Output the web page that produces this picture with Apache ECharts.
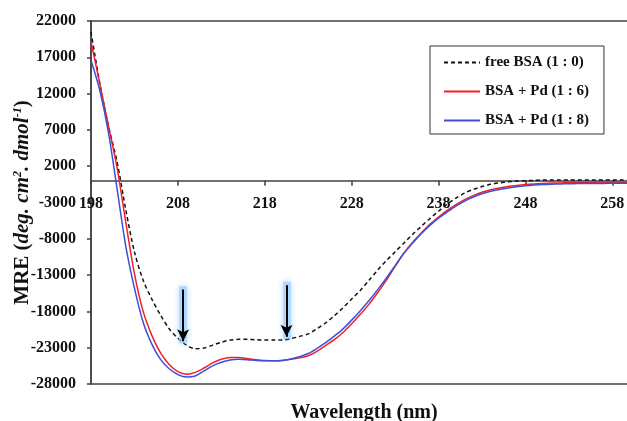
<!DOCTYPE html>
<html style="height:100%;">
<head>
    <meta charset="utf-8">
    <title>MRE vs Wavelength</title>
    <script src="https://cdn.jsdelivr.net/npm/echarts@6/dist/echarts.min.js"></script>
</head>
<body style="height: 100%; margin: 0; background: #fff;">
    <div id="main" style="width: 627px; height: 421px;"></div>
    <script type="text/javascript">
    // wavelength (nm), 198 .. 260
    var wavelength = [];
    for (var w = 198; w <= 260; w++) wavelength.push(w);

    var freeBSA = [
        20500, 13500, 7600, 2600, -4000, -9800, -13700, -16300, -18500, -20400,
        -21700, -22650, -23150, -23050, -22650, -22250, -21950, -21850, -21850, -21900,
        -21950, -21950, -21950, -21750, -21450, -21100, -20400, -19600, -18600, -17500,
        -16300, -15100, -13700, -12300, -11000, -9800, -8600, -7400, -6300, -5200,
        -4200, -3200, -2400, -1700, -1200, -800, -500, -300, -150, -50,
        0, 50, 100, 100, 100, 100, 100, 100, 100, 100,
        100, 100, 100
    ];
    var bsaPd16 = [
        19200, 13400, 7600, 1800, -5700, -12800, -18000, -21300, -23700, -25300,
        -26300, -26650, -26400, -25800, -25100, -24600, -24350, -24350, -24500, -24650,
        -24750, -24800, -24750, -24600, -24400, -24100, -23500, -22700, -21900, -20900,
        -19700, -18400, -17000, -15400, -13700, -11800, -10000, -8500, -7200, -6000,
        -5000, -4100, -3300, -2600, -2050, -1600, -1250, -1000, -800, -650,
        -530, -440, -380, -330, -300, -290, -280, -270, -260, -260,
        -250, -250, -250
    ];
    var bsaPd18 = [
        16600, 12500, 6700, -1100, -9000, -14800, -19500, -22500, -24600, -25900,
        -26700, -27050, -26900, -26200, -25500, -25000, -24700, -24600, -24650, -24750,
        -24800, -24800, -24750, -24550, -24250, -23800, -23100, -22300, -21400, -20400,
        -19200, -17900, -16500, -15000, -13400, -11700, -10000, -8600, -7300, -6150,
        -5150, -4300, -3500, -2800, -2250, -1800, -1450, -1200, -1000, -830,
        -700, -600, -520, -470, -440, -420, -400, -390, -380, -370,
        -360, -355, -350
    ];

    // arrows marking the two minima (wavelength, MRE start, MRE tip)
    var arrowX = [208.6, 220.5];
    var arrowTop = [-15000, -14400];
    var arrowTip = [-22100, -21500];

    function pairs(vals) {
        return wavelength.map(function (x, i) { return [x, vals[i]]; });
    }

    var serif = '"Liberation Serif", "Times New Roman", serif';
    var axisColor = '#404040';

    var arrowLines = [];
    arrowX.forEach(function (x, i) {
        // soft blue glow behind the arrow
        arrowLines.push([
            { coord: [x, arrowTop[i] + 500], symbol: 'none',
              lineStyle: { color: 'rgba(140,200,255,0.55)', width: 8, shadowBlur: 6, shadowColor: 'rgba(120,190,255,0.9)' } },
            { coord: [x, arrowTip[i] - 300], symbol: 'none' }
        ]);
        arrowLines.push([
            { coord: [x, arrowTop[i]] },
            { coord: [x, arrowTip[i]] }
        ]);
    });

    var myChart = echarts.init(document.getElementById('main'));
    myChart.setOption({
        backgroundColor: '#fff',
        animation: false,
        title: {
            text: 'Wavelength (nm)',
            left: 359,
            textAlign: 'center',
            top: 398,
            textStyle: { fontFamily: serif, fontSize: 20, fontWeight: 'bold', color: '#111' }
        },
        grid: {
            left: 91, right: -1, top: 21, bottom: 37,
            containLabel: false, outerBoundsMode: 'none',
            show: true, borderColor: axisColor, borderWidth: 1.5
        },
        legend: {
            orient: 'vertical',
            left: 430, top: 46,
            padding: [9, 15, 6, 13],
            itemWidth: 36, itemHeight: 14, itemGap: 14,
            backgroundColor: '#fff',
            borderColor: '#333', borderWidth: 1,
            itemStyle: { opacity: 0 },
            textStyle: { fontFamily: serif, fontSize: 15, fontWeight: 'bold', color: '#111' },
            data: ['free BSA (1 : 0)', 'BSA + Pd (1 : 6)', 'BSA + Pd (1 : 8)']
        },
        xAxis: {
            type: 'value',
            min: 198, max: 259.8, interval: 10,
            offset: -203.3,
            splitLine: { show: false },
            axisLine: { onZero: false, lineStyle: { color: axisColor, width: 1.5 } },
            axisTick: { length: 5, lineStyle: { color: axisColor, width: 1.5 } },
            axisLabel: {
                showMaxLabel: false, margin: 15,
                fontFamily: serif, fontSize: 16, fontWeight: 'bold', color: '#111'
            }
        },
        yAxis: {
            type: 'value',
            min: -28000, max: 22000, interval: 5000,
            splitLine: { show: false },
            axisLine: { lineStyle: { color: axisColor, width: 1.5 } },
            axisTick: { length: 4, lineStyle: { color: axisColor, width: 1.5 } },
            axisLabel: {
                margin: 15,
                formatter: function (v) { return String(v); },
                fontFamily: serif, fontSize: 16, fontWeight: 'bold', color: '#111'
            },
            name: '{b|MRE (}{i|deg. cm}{s|2}{i|. dmol}{s|-1}{b|)}',
            nameLocation: 'middle',
            nameGap: 58,
            nameMoveOverlap: false,
            nameTextStyle: {
                rich: {
                    b: { fontFamily: serif, fontSize: 21, fontWeight: 'bold', color: '#111' },
                    i: { fontFamily: serif, fontSize: 21, fontWeight: 'bold', fontStyle: 'italic', color: '#111' },
                    s: { fontFamily: serif, fontSize: 12, fontWeight: 'bold', fontStyle: 'italic', color: '#111', verticalAlign: 'top', padding: [0, 0, 8, 0] }
                }
            }
        },
        series: [{
            name: 'free BSA (1 : 0)',
            type: 'line',
            smooth: 0.3,
            symbol: 'none',
            data: pairs(freeBSA),
            lineStyle: { color: '#111', width: 1.5, type: [4, 3] },
            itemStyle: { color: '#111' },
            markLine: {
                silent: true,
                symbol: ['none', 'arrow'],
                symbolSize: [9, 12],
                label: { show: false },
                lineStyle: { color: '#000', width: 2, type: 'solid' },
                data: arrowLines
            }
        }, {
            name: 'BSA + Pd (1 : 6)',
            type: 'line',
            smooth: 0.3,
            symbol: 'none',
            data: pairs(bsaPd16),
            lineStyle: { color: '#f0202a', width: 1.5 },
            itemStyle: { color: '#f0202a' }
        }, {
            name: 'BSA + Pd (1 : 8)',
            type: 'line',
            smooth: 0.3,
            symbol: 'none',
            data: pairs(bsaPd18),
            lineStyle: { color: '#3a50d9', width: 1.5 },
            itemStyle: { color: '#3a50d9' }
        }]
    });
    </script>
</body>
</html>
